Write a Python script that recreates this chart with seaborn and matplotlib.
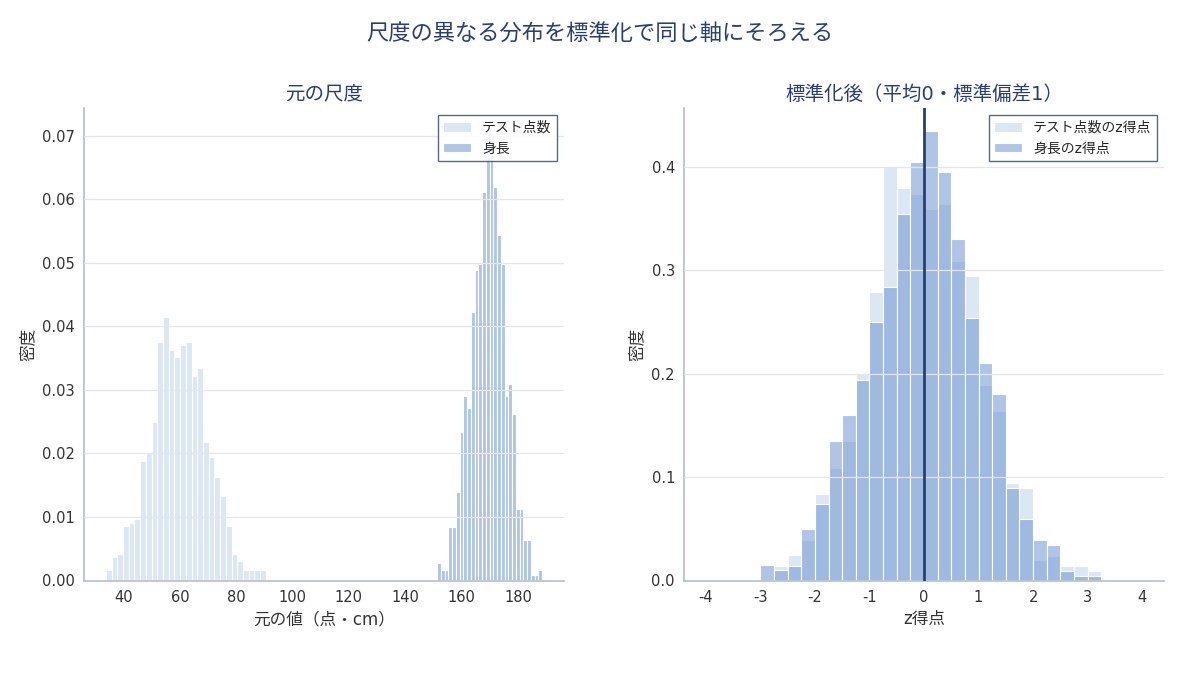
"""
Two distributions on different scales (test scores, body height),
shown raw on the left and after z-score standardisation on the right.
"""
import numpy as np
import pandas as pd
import matplotlib
matplotlib.use("Agg")
import matplotlib.pyplot as plt
import seaborn as sns

# left panel: raw densities (28 bins each)
test_start, test_width = 33.7, 2.03
test_density = [0.0017, 0.0037, 0.0042, 0.0085, 0.0091, 0.0097, 0.0188,
                0.0200, 0.0249, 0.0376, 0.0414, 0.0363, 0.0352, 0.0370,
                0.0376, 0.0321, 0.0334, 0.0218, 0.0194, 0.0163, 0.0133,
                0.0085, 0.0042, 0.0030, 0.0017, 0.0017, 0.0017, 0.0017]

height_start, height_width = 151.3, 1.333
height_density = [0.0028, 0.0017, 0.0017, 0.0084, 0.0084, 0.0140, 0.0234,
                  0.0291, 0.0272, 0.0423, 0.0488, 0.0498, 0.0611, 0.0708,
                  0.0695, 0.0619, 0.0544, 0.0498, 0.0291, 0.0309, 0.0262,
                  0.0112, 0.0112, 0.0064, 0.0064, 0.0008, 0.0008, 0.0017]

# right panel: z-score densities, common bins of 0.25 from -3.0
z_start, z_width = -3.0, 0.25
test_z_density = [0.0, 0.0145, 0.0242, 0.0396, 0.0841, 0.1092, 0.1347,
                  0.1998, 0.2794, 0.4000, 0.3800, 0.3742, 0.3597, 0.3645,
                  0.3094, 0.2949, 0.1895, 0.1644, 0.0947, 0.0899, 0.0196,
                  0.0241, 0.0145, 0.0145, 0.0096]
height_z_density = [0.0148, 0.0097, 0.0145, 0.0496, 0.0744, 0.1347, 0.1600,
                    0.1943, 0.2498, 0.2842, 0.3548, 0.4045, 0.4354, 0.3948,
                    0.3300, 0.2543, 0.2101, 0.1801, 0.0899, 0.0599, 0.0395,
                    0.0347, 0.0096, 0.0048, 0.0048]

labels_left = ["テスト点数", "身長"]
labels_right = ["テスト点数のz得点", "身長のz得点"]
z_ticks = [-4, -3, -2, -1, 0, 1, 2, 3, 4]

NAVY = "#2b3f6e"
TEST_COLOR = "#bbd1eb"
HEIGHT_COLOR = "#638dcd"


def edges_of(start, width, n):
    return start + width * np.arange(n + 1)


def draw_hist(ax, start, width, density, color, label):
    """Draws pre-binned densities as a seaborn histogram."""
    edges = edges_of(start, width, len(density))
    df = pd.DataFrame({"value": (edges[:-1] + edges[1:]) / 2,
                       "density": density})
    sns.histplot(data=df, x="value", weights="density", bins=list(edges),
                 stat="count", color=color, alpha=0.5, edgecolor="white",
                 linewidth=0.8, label=label, ax=ax)


def style_axes(ax):
    ax.set_axisbelow(False)
    ax.grid(axis="y", color="#e3e6ee", linewidth=0.9)
    ax.grid(axis="x", visible=False)
    for side in ["top", "right"]:
        ax.spines[side].set_visible(False)
    for side in ["left", "bottom"]:
        ax.spines[side].set_color("#b7bfcf")
    ax.tick_params(colors="#333333", labelsize=10.5, length=3)
    leg = ax.legend(loc="upper right", fancybox=False, framealpha=0.85,
                    edgecolor="#3b4d74", fontsize=10, borderpad=0.4)
    leg.get_frame().set_linewidth(1.0)


def main():
    sns.set_theme(style="white")
    plt.rcParams["font.family"] = ["DejaVu Sans", "Noto Sans CJK JP"]
    plt.rcParams["axes.unicode_minus"] = False

    fig, (ax1, ax2) = plt.subplots(1, 2, figsize=(12, 6.75), dpi=100)
    fig.subplots_adjust(left=0.07, right=0.97, top=0.84, bottom=0.14,
                        wspace=0.25)

    # raw scale
    draw_hist(ax1, test_start, test_width, test_density, TEST_COLOR,
              labels_left[0])
    draw_hist(ax1, height_start, height_width, height_density, HEIGHT_COLOR,
              labels_left[1])
    ax1.set_title("元の尺度", color=NAVY, fontsize=14)
    ax1.set_xlabel("元の値（点・cm）", fontsize=12, color="#333333")
    ax1.set_ylabel("密度", fontsize=12, color="#333333")
    ax1.yaxis.set_major_formatter(matplotlib.ticker.FormatStrFormatter("%.2f"))
    style_axes(ax1)

    # standardised scale
    draw_hist(ax2, z_start, z_width, test_z_density, TEST_COLOR,
              labels_right[0])
    draw_hist(ax2, z_start, z_width, height_z_density, HEIGHT_COLOR,
              labels_right[1])
    ax2.axvline(0, color=NAVY, linewidth=2, zorder=3)
    ax2.set_xlim(-4.4, 4.4)
    ax2.set_xticks(z_ticks)
    ax2.set_title("標準化後（平均0・標準偏差1）", color=NAVY, fontsize=14)
    ax2.set_xlabel("z得点", fontsize=12, color="#333333")
    ax2.set_ylabel("密度", fontsize=12, color="#333333")
    style_axes(ax2)

    fig.suptitle("尺度の異なる分布を標準化で同じ軸にそろえる", color=NAVY,
                 fontsize=16, y=0.965)
    fig.savefig("out.png", dpi=100)


if __name__ == "__main__":
    main()
